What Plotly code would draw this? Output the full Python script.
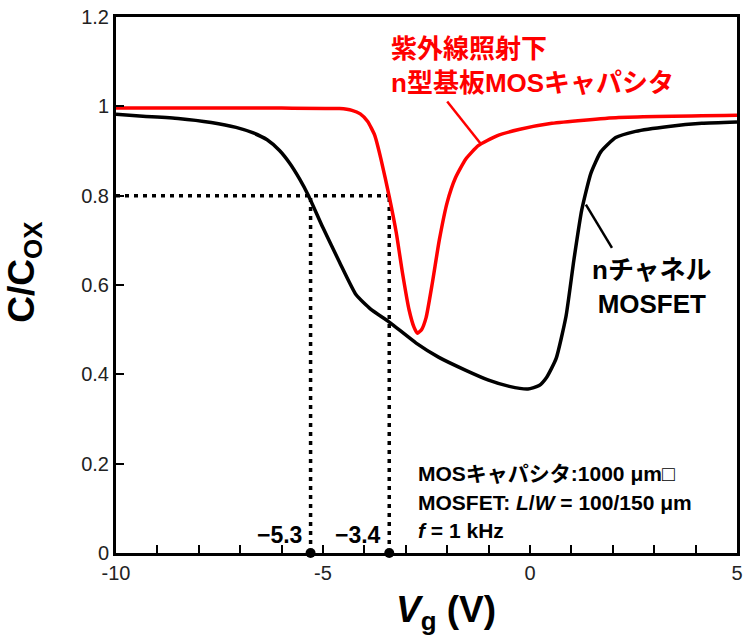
import plotly.graph_objects as go

# ---- data ----
mosfet_vg = [-10, -9.35, -8.5, -7.7, -7.1, -6.7, -6.35, -6.05, -5.8, -5.57, -5.35, -5.0,
             -4.6, -4.2, -3.85, -3.4, -2.75, -2.2, -1.55, -1.0, -0.5, -0.05, 0.22, 0.4,
             0.63, 0.87, 1.06, 1.25, 1.47, 1.71, 2.07, 2.55, 3.35, 4.15, 5.0]
mosfet_c = [0.982, 0.978, 0.973, 0.964, 0.953, 0.941, 0.925, 0.901, 0.872, 0.838, 0.80, 0.728,
            0.651, 0.578, 0.546, 0.517, 0.47, 0.438, 0.409, 0.387, 0.373, 0.367, 0.375, 0.393,
            0.435, 0.53, 0.656, 0.768, 0.85, 0.898, 0.93, 0.944, 0.955, 0.962, 0.965]

moscap_vg = [-10, -6, -4.6, -4.3, -4.1, -3.92, -3.75, -3.6, -3.4, -3.23, -3.08, -2.92, -2.8,
             -2.72, -2.62, -2.51, -2.36, -2.19, -2.0, -1.8, -1.55, -1.25, -0.8, -0.27,
             0.53, 2.14, 5.0]
moscap_c = [0.996, 0.996, 0.995, 0.991, 0.983, 0.966, 0.935, 0.882, 0.798, 0.717, 0.627, 0.544, 0.505,
            0.492, 0.50, 0.527, 0.604, 0.701, 0.785, 0.84, 0.882, 0.912, 0.934, 0.948,
            0.962, 0.975, 0.98]

guide_c = 0.8
guide_vg = [-5.3, -3.4]
guide_labels = ["\u22125.3", "\u22123.4"]

x_tickvals = [-10, -5, 0, 5]
x_ticktext = ["-10", "-5", "0", "5"]
y_tickvals = [0, 0.2, 0.4, 0.6, 0.8, 1.0, 1.2]
y_ticktext = ["0", "0.2", "0.4", "0.6", "0.8", "1", "1.2"]

red_label = "<b>紫外線照射下<br>n型基板MOSキャパシタ</b>"
red_leader = [(-2.0, 1.011), (-1.18, 0.915)]
black_label = "<b>nチャネル<br>MOSFET</b>"
black_leader = [(1.35, 0.78), (1.98, 0.683)]
info_lines = ["<b>MOSキャパシタ:1000 μm</b>□",
              "<b>MOSFET: <i>L</i>/<i>W</i> = 100/150 μm</b>",
              "<b><i>f</i> = 1 kHz</b>"]

FONT = "Liberation Sans, Arial, Noto Sans CJK JP, sans-serif"

fig = go.Figure()

# guide lines (dotted)
dot = "4px,5px"
fig.add_trace(go.Scatter(x=[-10, guide_vg[1]], y=[guide_c, guide_c], mode="lines",
                         line=dict(color="black", width=3.5, dash=dot), hoverinfo="skip"))
for gx in guide_vg:
    fig.add_trace(go.Scatter(x=[gx, gx], y=[0, guide_c], mode="lines",
                             line=dict(color="black", width=3.5, dash=dot), hoverinfo="skip"))

fig.add_trace(go.Scatter(x=mosfet_vg, y=mosfet_c, mode="lines",
                         line=dict(color="black", width=3.5, shape="spline", smoothing=0.5)))
fig.add_trace(go.Scatter(x=moscap_vg, y=moscap_c, mode="lines",
                         line=dict(color="#ff0000", width=3.5, shape="spline", smoothing=0.5)))

fig.add_trace(go.Scatter(x=guide_vg, y=[0, 0], mode="markers", cliponaxis=False,
                         marker=dict(color="black", size=10)))

# leader lines
fig.add_shape(type="line", x0=red_leader[0][0], y0=red_leader[0][1],
              x1=red_leader[1][0], y1=red_leader[1][1], line=dict(color="#ff0000", width=2.5))
fig.add_shape(type="line", x0=black_leader[0][0], y0=black_leader[0][1],
              x1=black_leader[1][0], y1=black_leader[1][1], line=dict(color="black", width=2.5))

ann = []
for gx, lab in zip(guide_vg, guide_labels):
    ann.append(dict(x=gx - 0.15, y=0.04, text="<b>" + lab + "</b>", showarrow=False,
                    xanchor="right", yanchor="middle", font=dict(size=23, color="black")))
ann.append(dict(x=-3.4, y=1.09, text=red_label, showarrow=False, xanchor="left",
                yanchor="middle", align="left", font=dict(size=26, color="#ff0000")))
ann.append(dict(x=2.95, y=0.595, text=black_label, showarrow=False, xanchor="center",
                yanchor="middle", align="center", font=dict(size=26, color="black")))
for i, line in enumerate(info_lines):
    ann.append(dict(x=-2.75, y=0.177 - i * 0.063, text=line, showarrow=False, xanchor="left",
                    yanchor="middle", align="left", font=dict(size=21, color="black")))
# axis titles
ann.append(dict(xref="paper", yref="paper", x=0.531, y=-0.11, text="<b><i>V</i><sub>g</sub> (V)</b>",
                showarrow=False, xanchor="center", yanchor="middle", font=dict(size=37, color="black")))
ann.append(dict(xref="paper", yref="paper", x=-0.148, y=0.525, text="<b>C/C<sub>OX</sub></b>",
                showarrow=False, xanchor="center", yanchor="middle", textangle=-90,
                font=dict(size=37, color="black")))

fig.update_layout(
    width=748, height=638, margin=dict(l=116, r=5, t=17, b=85),
    paper_bgcolor="white", plot_bgcolor="white", showlegend=False,
    font=dict(family=FONT, color="black"),
    annotations=ann,
    xaxis=dict(range=[-10, 5], tickvals=x_tickvals, ticktext=x_ticktext,
               showline=True, linecolor="black", linewidth=3, mirror=True,
               ticks="inside", ticklen=8, tickwidth=1.5, tickcolor="black",
               minor=dict(dtick=1, ticks="inside", ticklen=8, tickwidth=1.5, tickcolor="black"),
               showgrid=False, zeroline=False, tickfont=dict(size=20, color="#222")),
    yaxis=dict(range=[0, 1.2], tickvals=y_tickvals, ticktext=y_ticktext,
               showline=True, linecolor="black", linewidth=3, mirror=True,
               ticks="inside", ticklen=8, tickwidth=1.5, tickcolor="black",
               showgrid=False, zeroline=False, tickfont=dict(size=20, color="#222")),
)

fig.write_html("out.html")
